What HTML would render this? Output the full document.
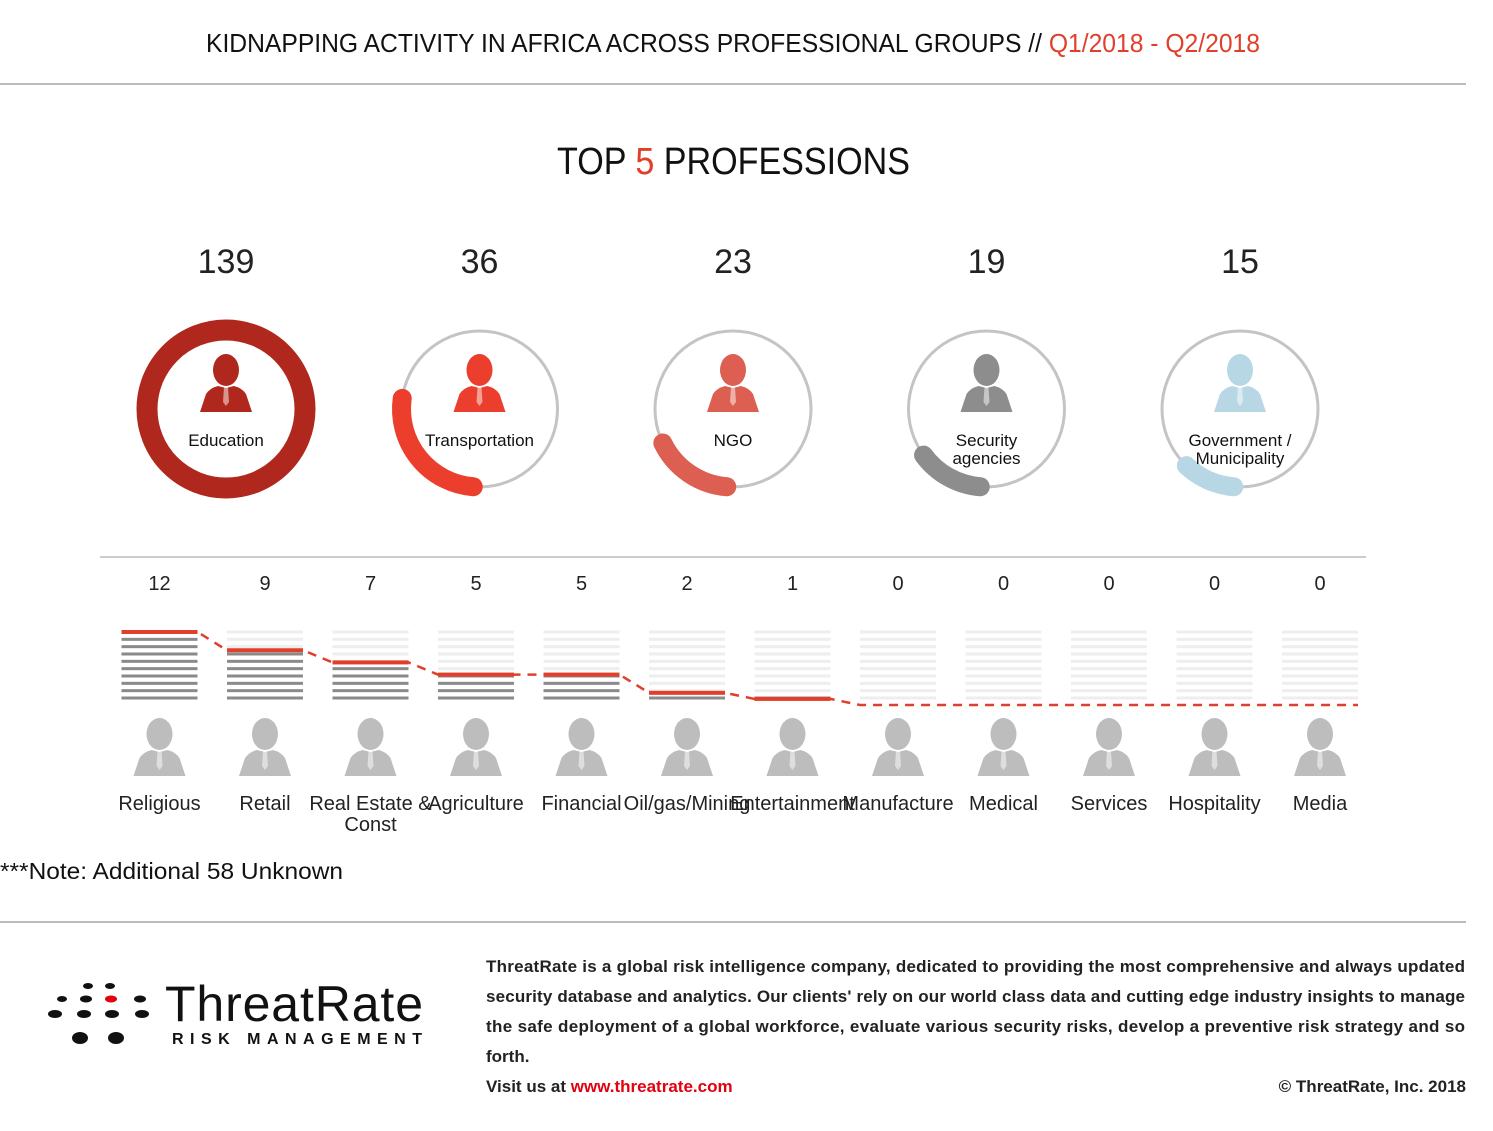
<!DOCTYPE html>
<html><head><meta charset="utf-8"><style>
body{margin:0;width:1493px;height:1126px;background:#fff;font-family:"Liberation Sans",sans-serif;overflow:hidden}
svg text{font-family:"Liberation Sans",sans-serif}
</style></head><body>
<svg id="chart" width="1493" height="1126" viewBox="0 0 1493 1126">
<defs>
<g id="person"><ellipse cx="0" cy="-12" rx="13" ry="16"/><path d="M-26,30 L-20,12 Q-16,6 -8,4 L0,6 L8,4 Q16,6 20,12 L26,30 Z"/><path d="M-2,5 L2,5 L3,20 L0,24 L-3,20 Z" fill="#fff" opacity="0.5"/></g>
</defs>
<text x="206" y="52" font-size="26" fill="#111" textLength="1054" lengthAdjust="spacingAndGlyphs">KIDNAPPING ACTIVITY IN AFRICA ACROSS PROFESSIONAL GROUPS //  <tspan fill="#e0402b">Q1/2018 - Q2/2018</tspan></text>
<line x1="0" y1="84" x2="1466" y2="84" stroke="#bbb" stroke-width="2"/>
<text x="557" y="174" font-size="38" fill="#111" textLength="353" lengthAdjust="spacingAndGlyphs">TOP <tspan fill="#e0402b">5</tspan> PROFESSIONS</text>
<g id="top5"></g>
<line x1="100" y1="557" x2="1366" y2="557" stroke="#ccc" stroke-width="2"/>
<g id="bars"></g>
<text x="0" y="879" font-size="23" fill="#111" textLength="343" lengthAdjust="spacingAndGlyphs">***Note: Additional 58 Unknown</text>
<line x1="0" y1="922" x2="1466" y2="922" stroke="#bbb" stroke-width="2"/>
<g>
<g fill="#111">
<ellipse cx="88" cy="986" rx="5" ry="3"/><ellipse cx="110" cy="986" rx="5" ry="3"/>
<ellipse cx="62" cy="999" rx="5" ry="3"/><ellipse cx="86" cy="999" rx="6" ry="3.5"/><ellipse cx="140" cy="999" rx="6" ry="3.5"/>
<ellipse cx="55" cy="1014" rx="7" ry="4"/><ellipse cx="84" cy="1014" rx="7" ry="4"/><ellipse cx="112" cy="1014" rx="7" ry="4"/><ellipse cx="142" cy="1014" rx="7" ry="4"/>
<ellipse cx="80" cy="1038" rx="8" ry="6"/><ellipse cx="116" cy="1038" rx="8" ry="6"/>
</g>
<ellipse cx="111" cy="999" rx="6" ry="3.5" fill="#e3000f"/>
<text x="165" y="1021" font-size="50" fill="#111" textLength="258">ThreatRate</text>
<text x="172" y="1044" font-size="16" font-weight="bold" fill="#111" textLength="250" lengthAdjust="spacing">RISK MANAGEMENT</text>
</g>
<g font-size="17" fill="#222" font-weight="bold">
<text x="486" y="972" textLength="979">ThreatRate is a global risk intelligence company, dedicated to providing the most comprehensive and always updated</text>
<text x="486" y="1002" textLength="979">security database and analytics. Our clients' rely on our world class data and cutting edge industry insights to manage</text>
<text x="486" y="1032" textLength="979">the safe deployment of a global workforce, evaluate various security risks, develop a preventive risk strategy and so</text>
<text x="486" y="1062">forth.</text>
<text x="486" y="1092">Visit us at <tspan fill="#e3000f">www.threatrate.com</tspan></text>
<text x="1466" y="1092" text-anchor="end">© ThreatRate, Inc. 2018</text>
</g>
</svg>
<script>
const topLabels=[["Education"],["Transportation"],["NGO"],["Security","agencies"],["Government /","Municipality"]];
const topValues=[139,36,23,19,15];
const topColors=["#b0271e","#ec3e2c","#dc5f52","#8d8d8d","#b8d7e4"];
const cats=[["Religious"],["Retail"],["Real Estate &","Const"],["Agriculture"],["Financial"],["Oil/gas/Mining"],["Entertainment"],["Manufacture"],["Medical"],["Services"],["Hospitality"],["Media"]];
const vals=[12,9,7,5,5,2,1,0,0,0,0,0];
const NS="http://www.w3.org/2000/svg";
function mk(tag,attrs,parent){const e=document.createElementNS(NS,tag);for(const k in attrs)e.setAttribute(k,attrs[k]);parent.appendChild(e);return e;}
const total=topValues[0];
const tg=document.getElementById('top5');
const txs=i=>226+i*253.5;
topValues.forEach((v,i)=>{
  const cx=txs(i),cy=409,r=78;
  const g=mk('g',{},tg);
  
  
  const t=mk('text',{x:cx,y:273,'text-anchor':'middle','font-size':34,fill:'#222'},g);t.textContent=v;
  
  
  const frac=v/total;
  if(frac>=0.999){
    const c=mk('circle',{cx,cy,r:79,fill:'none',stroke:topColors[i],'stroke-width':21},g);
    
    
  } else {
    const c=mk('circle',{cx,cy,r,fill:'none',stroke:'#c4c4c4','stroke-width':3},g);
    
    
    const a0=Math.PI/2+0.08, a1=a0+frac*2*Math.PI;
    const x0=cx+r*Math.cos(a0),y0=cy+r*Math.sin(a0),x1=cx+r*Math.cos(a1),y1=cy+r*Math.sin(a1);
    const p=mk('path',{d:`M${x0},${y0} A${r},${r} 0 ${frac>0.5?1:0} 1 ${x1},${y1}`,fill:'none',stroke:topColors[i],'stroke-width':19,'stroke-linecap':'round'},g);
    
    
  }
  const u=mk('use',{href:'#person',x:cx,y:cy-27,fill:topColors[i]},g);
  
  
  const lab=topLabels[i];
  lab.forEach((s,j)=>{const tt=mk('text',{x:cx,y:446+j*18,'text-anchor':'middle','font-size':17,fill:'#111'},g);tt.textContent=s;
    
    });
});
const bg=document.getElementById('bars');
const bx=i=>159.5+i*105.5;
const base=705, stripeTop=632, step=(698-632)/9;
const y=v=>base-v/12*73;
const pts=[];
vals.forEach((v,i)=>{
  const cx=bx(i);
  const g=mk('g',{},bg);
  
  
  const t=mk('text',{x:cx,y:590,'text-anchor':'middle','font-size':20,fill:'#222'},g);t.textContent=v;
  
  
  const yv=y(v);
  for(let k=0;k<10;k++){
    const sy=stripeTop+k*step;
    const s=mk('rect',{x:cx-38,y:sy-1.5,width:76,height:3,fill:(v>0&&sy>=yv-1)?'#8a8a8a':'#eeeeee'},g);
    
    
  }
  if(v>0){const r=mk('rect',{x:cx-38,y:yv-2,width:76,height:4,fill:'#e0402b'},g);
    
    }
  pts.push([cx-38,yv],[cx+38,yv]);
  const u=mk('use',{href:'#person',x:cx,y:746,fill:'#bdbdbd'},g);
  
  
  cats[i].forEach((s,j)=>{const tt=mk('text',{x:cx,y:810+j*21,'text-anchor':'middle','font-size':20,fill:'#222'},g);tt.textContent=s;
    
    });
});
const tl=mk('polyline',{points:pts.map(p=>p.join(',')).join(' '),fill:'none',stroke:'#e0402b','stroke-width':2.5,'stroke-dasharray':'9,7'},bg);


</script>
</body></html>
